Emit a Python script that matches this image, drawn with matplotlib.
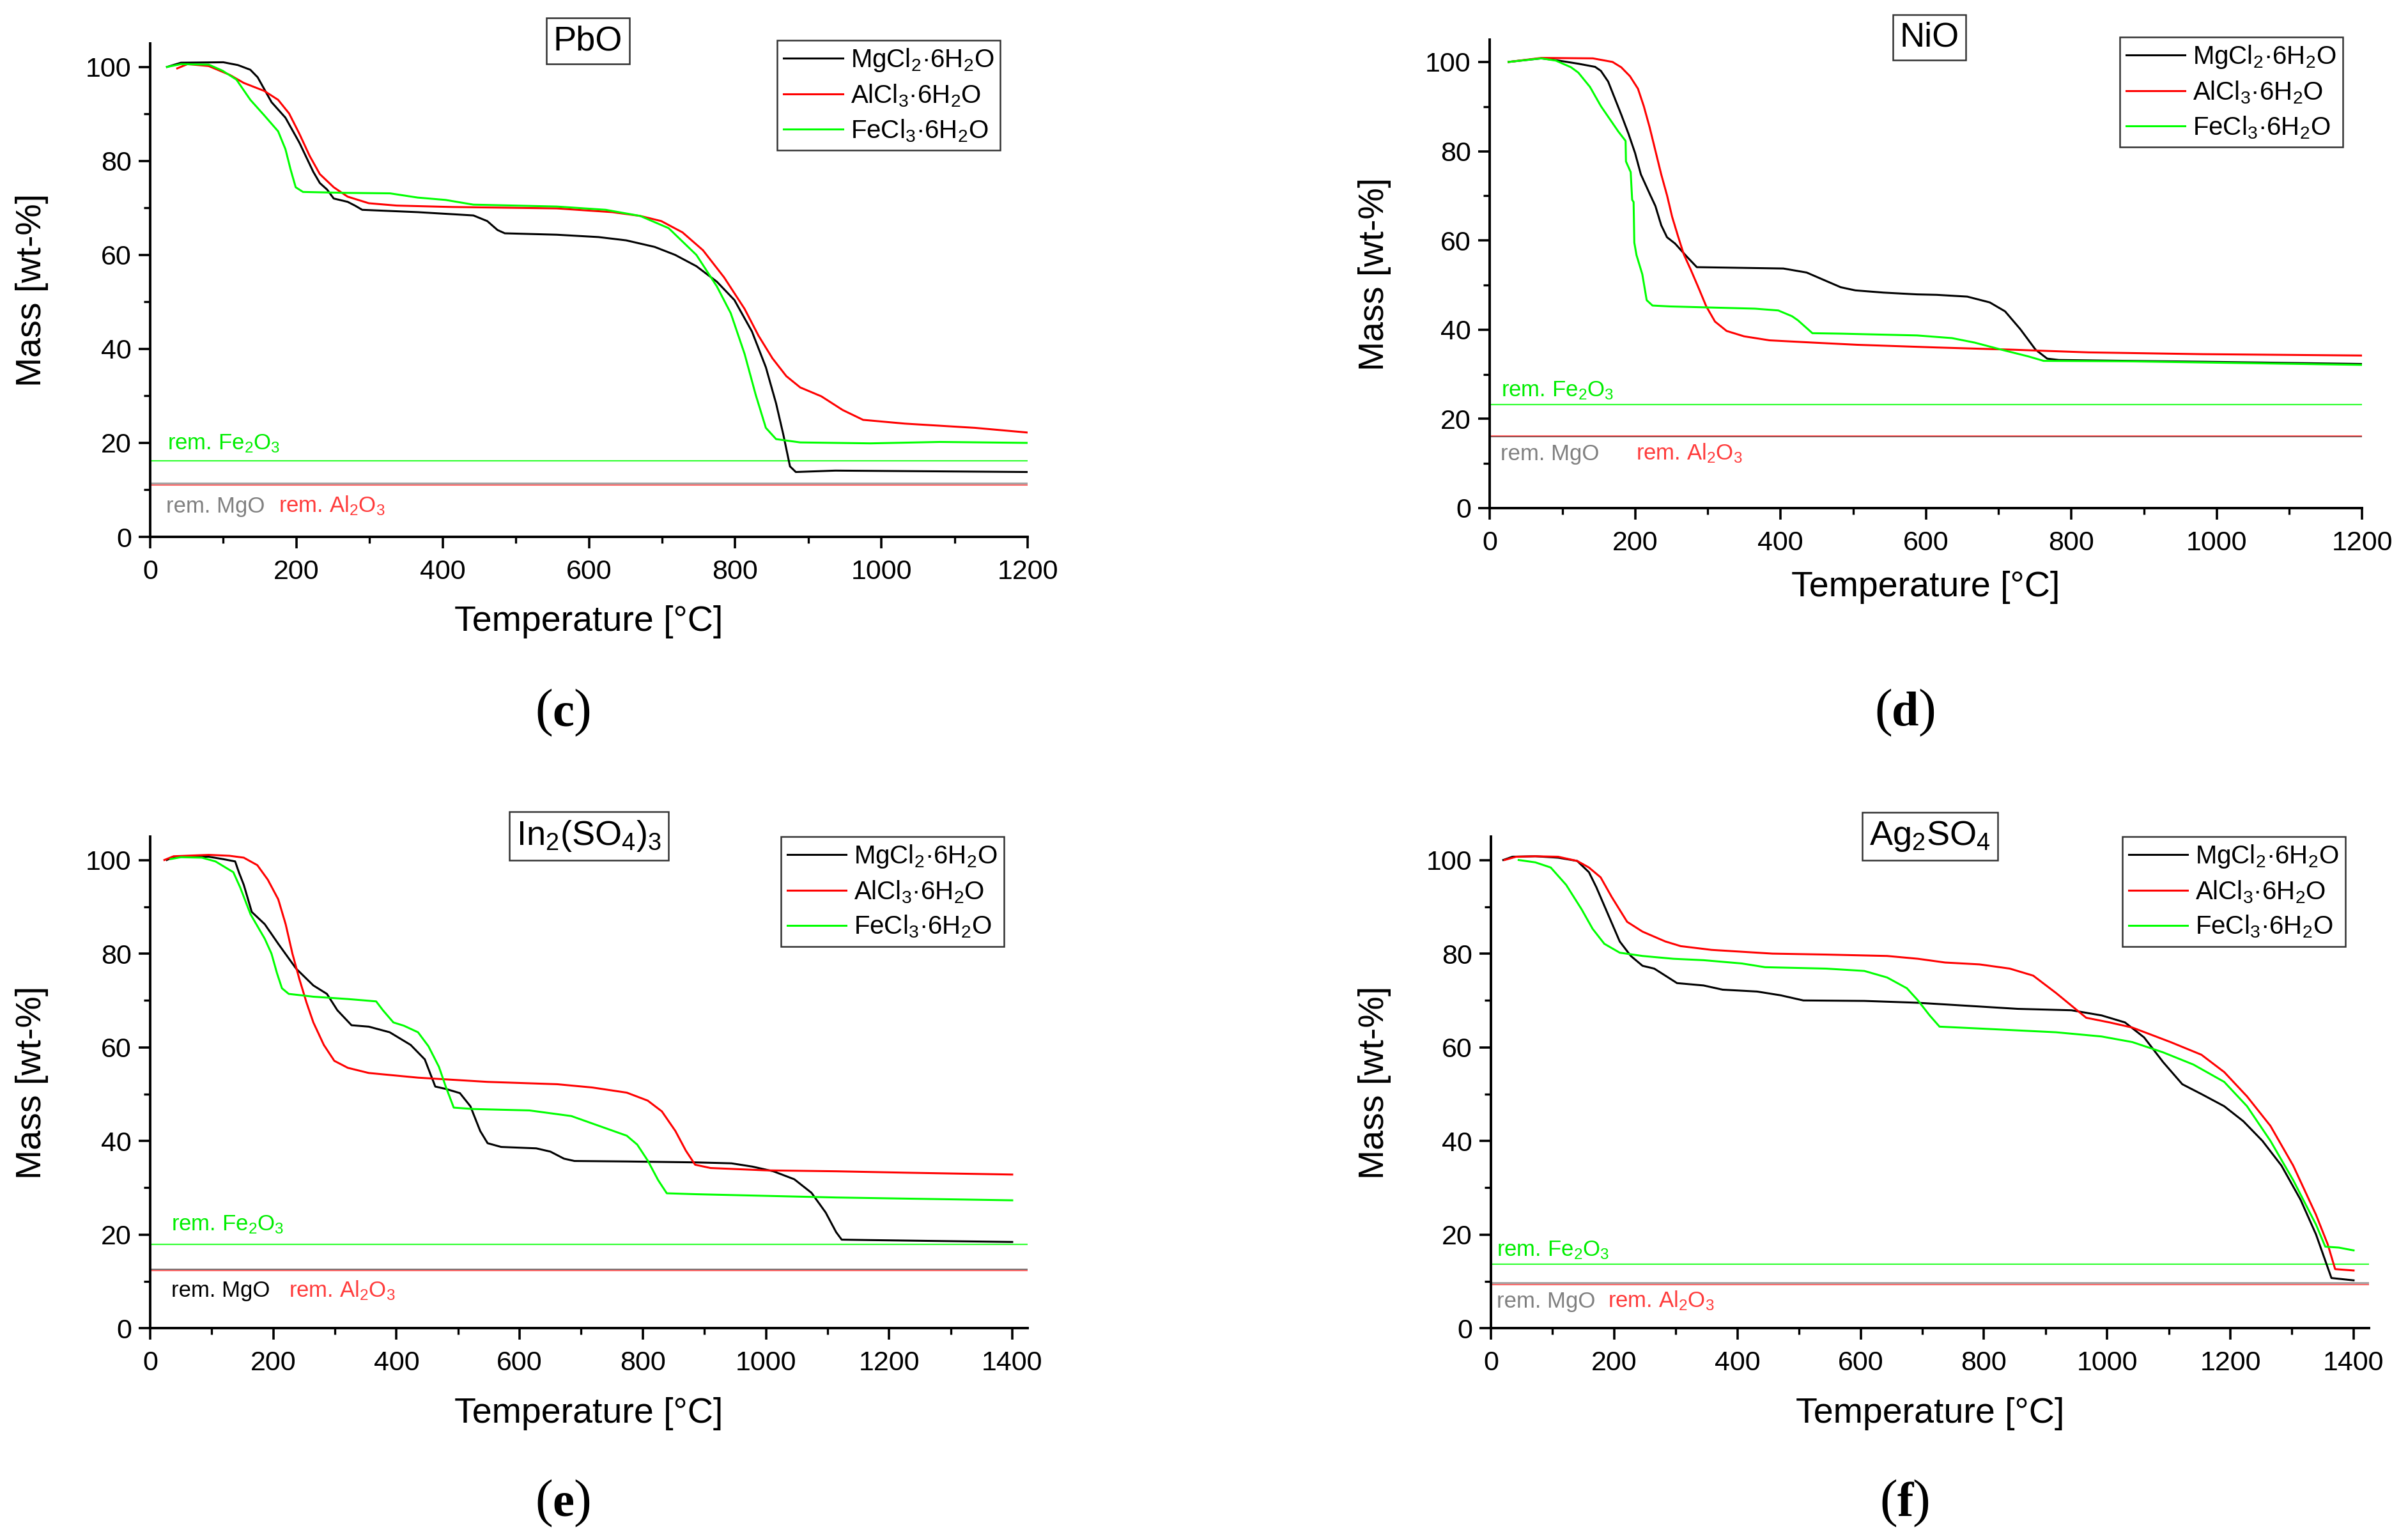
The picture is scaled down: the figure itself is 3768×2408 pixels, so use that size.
import matplotlib
matplotlib.use("Agg")
import matplotlib.pyplot as plt
from matplotlib.ticker import MultipleLocator

plt.rcParams['font.family'] = ['Liberation Sans', 'DejaVu Sans']
plt.rcParams['mathtext.fontset'] = 'custom'
plt.rcParams['mathtext.rm'] = 'Liberation Sans'
plt.rcParams['mathtext.it'] = 'Liberation Sans:italic'
plt.rcParams['mathtext.bf'] = 'Liberation Sans:bold'

# ---------------- data ----------------
series_labels = [r'MgCl$_\mathregular{2}$·6H$_\mathregular{2}$O',
                 r'AlCl$_\mathregular{3}$·6H$_\mathregular{2}$O',
                 r'FeCl$_\mathregular{3}$·6H$_\mathregular{2}$O']
series_colors = ['#000000', '#ff0000', '#00ff00']

titles = ['PbO', 'NiO', r'In$_\mathregular{2}$(SO$_\mathregular{4}$)$_\mathregular{3}$',
          r'Ag$_\mathregular{2}$SO$_\mathregular{4}$']
panel_letters = ['c', 'd', 'e', 'f']
x_max = [1200, 1200, 1425, 1425]
x_tick_max = [1200, 1200, 1400, 1400]

# panel (c) PbO
c_mg_T = [23, 42, 100, 120, 137, 147, 166, 185, 204, 223, 232, 242, 251, 270, 280, 290, 366, 442, 461, 475, 485,
          556, 613, 651, 690, 718, 747, 775, 799, 823, 842, 856, 866, 875, 883, 937, 1200]
c_mg_M = [100, 100.9, 101, 100.4, 99.4, 97.8, 92.5, 89.2, 83.9, 77.7, 75.3, 73.9, 72.0, 71.3, 70.5, 69.6, 69.1,
          68.4, 67.2, 65.3, 64.6, 64.3, 63.8, 63.1, 61.7, 60.0, 57.6, 54.3, 50.4, 43.7, 36.1, 28.4, 21.7, 15.0,
          13.8, 14.1, 13.8]
c_al_T = [37, 51, 80, 109, 128, 156, 175, 190, 204, 218, 232, 251, 270, 299, 337, 413, 556, 632, 670, 699, 728,
          756, 785, 813, 832, 851, 870, 889, 918, 947, 975, 1032, 1128, 1200]
c_al_M = [99.7, 100.6, 100.2, 98.3, 96.6, 94.9, 93.0, 90.1, 85.8, 81.1, 77.2, 74.4, 72.4, 71.0, 70.5, 70.2, 69.9,
          69.1, 68.3, 67.2, 64.8, 61.0, 55.2, 48.5, 42.8, 38.0, 34.2, 31.8, 29.9, 27.0, 24.9, 24.1, 23.2, 22.2]
c_fe_T = [23, 42, 80, 99, 118, 137, 156, 175, 185, 192, 199, 209, 270, 328, 366, 404, 442, 556, 623, 670, 709,
          747, 775, 794, 813, 828, 842, 856, 889, 985, 1080, 1200]
c_fe_M = [100, 100.6, 100.5, 99.2, 97.3, 93.0, 89.7, 86.3, 82.5, 78.2, 74.4, 73.4, 73.2, 73.1, 72.2, 71.7, 70.7,
          70.3, 69.6, 68.3, 65.7, 60.0, 53.3, 47.6, 38.9, 30.3, 23.2, 20.8, 20.1, 19.9, 20.2, 20.0]
c_rem = [11.45, 11.0, 16.2]   # MgO, Al2O3, Fe2O3

# panel (d) NiO
d_mg_T = [26, 71, 91, 122, 145, 153, 163, 181, 191, 200, 208, 220, 228, 236, 244, 255, 271, 285, 326, 404, 436,
          463, 483, 503, 542, 588, 615, 657, 688, 709, 730, 751, 767, 783, 877, 981, 1200]
d_mg_M = [100, 100.8, 100.4, 99.6, 98.9, 98.0, 95.6, 88.2, 83.9, 79.6, 74.8, 70.5, 67.7, 63.4, 60.7, 59.3, 56.4,
          54.0, 53.9, 53.7, 52.8, 50.9, 49.5, 48.8, 48.3, 47.9, 47.8, 47.4, 46.1, 44.1, 40.1, 35.5, 33.5, 33.2,
          33.0, 32.8, 32.3]
d_al_T = [26, 71, 142, 169, 181, 193, 204, 212, 220, 228, 236, 244, 251, 259, 267, 277, 287, 298, 310, 326, 350,
          385, 444, 506, 615, 720, 824, 981, 1200]
d_al_M = [100, 100.9, 100.8, 100.0, 98.8, 96.8, 94.0, 90.1, 85.4, 80.1, 74.8, 70.1, 65.3, 61.0, 56.9, 53.3, 49.5,
          45.2, 41.8, 39.7, 38.5, 37.6, 37.1, 36.6, 36.0, 35.5, 34.9, 34.5, 34.2]
d_fe_T = [26, 71, 91, 112, 122, 138, 153, 177, 187, 187.5, 194, 196, 198, 199, 202, 210, 216, 224, 248, 365, 397,
          416, 424, 444, 483, 588, 636, 667, 709, 741, 762, 877, 1200]
d_fe_M = [100, 100.8, 100.3, 98.8, 97.6, 94.4, 90.1, 84.4, 82.3, 77.7, 75.3, 69.1, 68.6, 59.5, 56.7, 52.4, 46.6,
          45.4, 45.2, 44.7, 44.3, 43.0, 42.1, 39.2, 39.1, 38.7, 38.1, 37.1, 35.3, 34.0, 33.0, 32.9, 32.1]
d_rem = [16.0, 16.15, 23.2]

# panel (e) In2(SO4)3
e_mg_T = [27, 38, 95, 118, 138, 144, 152, 165, 186, 208, 237, 265, 287, 304, 327, 355, 389, 423, 446, 463, 480,
          503, 520, 536, 548, 570, 627, 650, 672, 689, 774, 887, 944, 978, 1012, 1046, 1074, 1097, 1114, 1123,
          1170, 1283, 1400]
e_mg_M = [100, 100.7, 100.7, 100.2, 99.7, 97.4, 94.7, 88.9, 86.3, 82.1, 76.8, 73.2, 71.4, 67.9, 64.7, 64.4, 63.2,
          60.5, 57.4, 51.6, 51.1, 50.2, 47.4, 42.1, 39.5, 38.7, 38.4, 37.7, 36.2, 35.7, 35.6, 35.4, 35.2, 34.5,
          33.5, 31.8, 28.9, 24.7, 20.5, 18.9, 18.8, 18.6, 18.4]
e_al_T = [23, 38, 95, 129, 152, 174, 191, 208, 220, 231, 242, 254, 265, 282, 299, 321, 355, 435, 548, 661, 718,
          774, 808, 831, 853, 870, 885, 910, 1000, 1114, 1227, 1400]
e_al_M = [100, 100.8, 101.1, 100.9, 100.5, 98.9, 95.8, 91.6, 86.3, 80.0, 74.7, 69.5, 65.3, 60.5, 57.1, 55.6, 54.5,
          53.5, 52.6, 52.1, 51.4, 50.3, 48.6, 46.3, 42.1, 37.9, 34.9, 34.2, 33.7, 33.5, 33.2, 32.8]
e_fe_T = [33, 50, 84, 106, 135, 146, 163, 186, 197, 206, 214, 225, 265, 321, 367, 378, 395, 412, 435, 452, 469,
          480, 493, 525, 616, 684, 729, 774, 791, 808, 825, 839, 887, 1114, 1400]
e_fe_M = [100.2, 100.6, 100.5, 99.7, 97.4, 94.2, 88.4, 83.2, 80.0, 75.8, 72.6, 71.4, 70.8, 70.3, 69.8, 67.9, 65.3,
          64.6, 63.2, 60.2, 55.8, 51.6, 47.1, 46.8, 46.5, 45.3, 43.2, 41.1, 39.2, 35.8, 31.6, 28.8, 28.6, 27.9, 27.3]
e_rem = [12.57, 12.3, 17.9]

# panel (f) Ag2SO4
f_mg_T = [20, 35, 72, 109, 140, 159, 171, 190, 209, 227, 246, 265, 283, 302, 345, 376, 432, 470, 507, 606, 693,
          768, 855, 942, 991, 1029, 1060, 1091, 1122, 1153, 1190, 1221, 1252, 1283, 1314, 1339, 1364, 1400]
f_mg_M = [100, 100.7, 100.8, 100.5, 99.8, 97.4, 94.2, 88.4, 82.6, 79.5, 77.4, 76.8, 75.3, 73.7, 73.2, 72.3, 71.9,
          71.1, 70.0, 69.9, 69.5, 68.9, 68.2, 67.9, 66.8, 65.3, 62.1, 56.8, 52.1, 50.0, 47.4, 44.2, 40.0, 34.7,
          27.4, 20.0, 10.7, 10.2]
f_al_T = [22, 41, 72, 109, 140, 159, 178, 196, 221, 246, 283, 308, 358, 457, 544, 643, 693, 737, 793, 842, 880,
          917, 942, 966, 1004, 1041, 1103, 1153, 1190, 1227, 1265, 1302, 1339, 1358, 1370, 1400]
f_al_M = [100, 100.7, 100.8, 100.7, 99.8, 98.4, 96.3, 92.1, 86.8, 84.7, 82.6, 81.6, 80.8, 80.0, 79.8, 79.5, 78.9,
          78.1, 77.7, 76.8, 75.3, 71.6, 68.9, 66.3, 65.3, 64.2, 61.1, 58.4, 54.7, 49.5, 43.2, 34.7, 24.2, 17.9,
          12.6, 12.3]
f_fe_T = [45, 72, 97, 122, 147, 165, 184, 209, 246, 296, 345, 407, 445, 544, 606, 643, 675, 693, 712, 728, 793,
          917, 991, 1041, 1091, 1140, 1190, 1227, 1265, 1302, 1339, 1354, 1376, 1400]
f_fe_M = [100, 99.5, 98.4, 94.7, 89.5, 85.3, 82.1, 80.2, 79.5, 78.9, 78.6, 77.9, 77.1, 76.8, 76.3, 74.9, 72.6,
          70.0, 66.8, 64.4, 64.0, 63.2, 62.3, 61.1, 58.9, 56.3, 52.6, 47.4, 40.0, 31.6, 22.1, 17.4, 17.2, 16.6]
f_rem = [9.74, 9.3, 13.7]

rem_labels = ['rem. MgO', r'rem. Al$_\mathregular{2}$O$_\mathregular{3}$', r'rem. Fe$_\mathregular{2}$O$_\mathregular{3}$']

panels = [
    [(c_mg_T, c_mg_M), (c_al_T, c_al_M), (c_fe_T, c_fe_M)],
    [(d_mg_T, d_mg_M), (d_al_T, d_al_M), (d_fe_T, d_fe_M)],
    [(e_mg_T, e_mg_M), (e_al_T, e_al_M), (e_fe_T, e_fe_M)],
    [(f_mg_T, f_mg_M), (f_al_T, f_al_M), (f_fe_T, f_fe_M)],
]
rems = [c_rem, d_rem, e_rem, f_rem]

# ---------------- layout (styles / positions) ----------------
W, H, DPI = 3768, 2408, 200
fig = plt.figure(figsize=(W / DPI, H / DPI), dpi=DPI)
renderer = fig.canvas.get_renderer()

# pixel boxes: left, right, top, bottom
boxes = [(235, 1608, 68, 840), (2331, 3696, 62, 795), (235, 1608, 1309, 2078), (2333, 3707, 1309, 2078)]
title_pos = [(0.499, 1.005), (0.504, 1.005), (0.50, 1.001), (0.50, 1.001)]
legend_anchor = [(0.969, 1.006), (0.978, 1.005), (0.973, 1.0), (0.973, 1.0)]
ylabel_x = [-0.116, -0.113, -0.116, -0.1135]
xlabel_y = [-0.139, -0.134, -0.140, -0.140]
letter_pos = [(881, 1135), (2981, 1135), (881, 2372), (2981, 2372)]
# rem text positions: (x_Fe, y_Fe, x_Mg, y_Mg, x_Al)
rem_text_pos = [(24, 18.6, 22, 5.2, 176), (16, 25.0, 15, 10.8, 201), (34, 20.9, 34, 6.7, 225),
                (9, 15.4, 9.6, 4.4, 190)]
mgo_text_color = ['#808080', '#808080', '#000000', '#808080']
mgo_line_color = ['#a4a4a4', '#000000', '#707070', '#a4a4a4']
mgo_line_w = [1.1, 0.6, 0.7, 1.1]
al_line_color = '#ff6a6a'
fe_line_color = '#33ff33'

for i in range(4):
    l, r, t, b = boxes[i]
    ax = fig.add_axes([l / W, 1 - b / H, (r - l) / W, (b - t) / H])
    for k, (T, M) in enumerate(panels[i]):
        ax.plot(T, M, color=series_colors[k], lw=1.1, label=series_labels[k], zorder=3)
    mg_r, al_r, fe_r = rems[i]
    ax.axhline(mg_r, color=mgo_line_color[i], lw=mgo_line_w[i], zorder=2)
    ax.axhline(al_r, color=al_line_color, lw=0.75, zorder=2.1)
    ax.axhline(fe_r, color=fe_line_color, lw=0.8, zorder=2)
    xf, yf, xm, ym, xa = rem_text_pos[i]
    ax.text(xf, yf, rem_labels[2], color='#00ee00', fontsize=12.5, va='baseline')
    ax.text(xm, ym, rem_labels[0], color=mgo_text_color[i], fontsize=12.5, va='baseline')
    ax.text(xa, ym, rem_labels[1], color='#ff3b3b', fontsize=12.5, va='baseline')

    ax.set_xlim(0, x_max[i])
    ax.set_ylim(0, 105)
    ax.set_xticks(list(range(0, x_tick_max[i] + 1, 200)))
    ax.xaxis.set_minor_locator(MultipleLocator(100))
    ax.set_yticks([0, 20, 40, 60, 80, 100])
    ax.yaxis.set_minor_locator(MultipleLocator(10))
    ax.spines['top'].set_visible(False)
    ax.spines['right'].set_visible(False)
    for s in ('left', 'bottom'):
        ax.spines[s].set_linewidth(1.4)
    ax.tick_params(which='major', direction='out', length=6.5, width=1.3, labelsize=15.5, pad=4)
    ax.tick_params(axis='x', which='major', pad=6)
    ax.tick_params(which='minor', direction='out', length=3.5, width=1.2)

    ax.set_xlabel('Temperature [°C]', fontsize=20)
    ax.set_ylabel('Mass [wt-%]', fontsize=20)
    ax.xaxis.set_label_coords(0.5, xlabel_y[i])
    ax.yaxis.set_label_coords(ylabel_x[i], 0.5)

    tx, ty = title_pos[i]
    ax.text(tx, ty, titles[i], transform=ax.transAxes, ha='center', va='center', fontsize=19.5,
            bbox=dict(boxstyle='square,pad=0.2', facecolor='white', edgecolor='#333333', lw=0.9), zorder=5,
            clip_on=False)

    leg = ax.legend(loc='upper right', bbox_to_anchor=legend_anchor[i], bbox_transform=ax.transAxes,
                    fontsize=14.5, frameon=True, fancybox=False, framealpha=1, edgecolor='#333333',
                    borderpad=0.25, labelspacing=0.35, handlelength=2.3, handletextpad=0.3, borderaxespad=0)
    leg.get_frame().set_linewidth(0.9)

    # panel letter: bold letter with regular parentheses
    lx, ly = letter_pos[i]
    serif = ['Liberation Serif', 'DejaVu Serif']
    lt = fig.text(lx / W, 1 - ly / H, panel_letters[i], ha='center', va='baseline',
                  fontsize=27.5, fontweight='bold', family=serif)
    bb = lt.get_window_extent(renderer)
    fig.text((bb.x0 + 1) / W, 1 - ly / H, '(', ha='right', va='baseline', fontsize=30, family=serif)
    fig.text((bb.x1 - 1) / W, 1 - ly / H, ')', ha='left', va='baseline', fontsize=30, family=serif)

fig.savefig('out.png', dpi=DPI)
